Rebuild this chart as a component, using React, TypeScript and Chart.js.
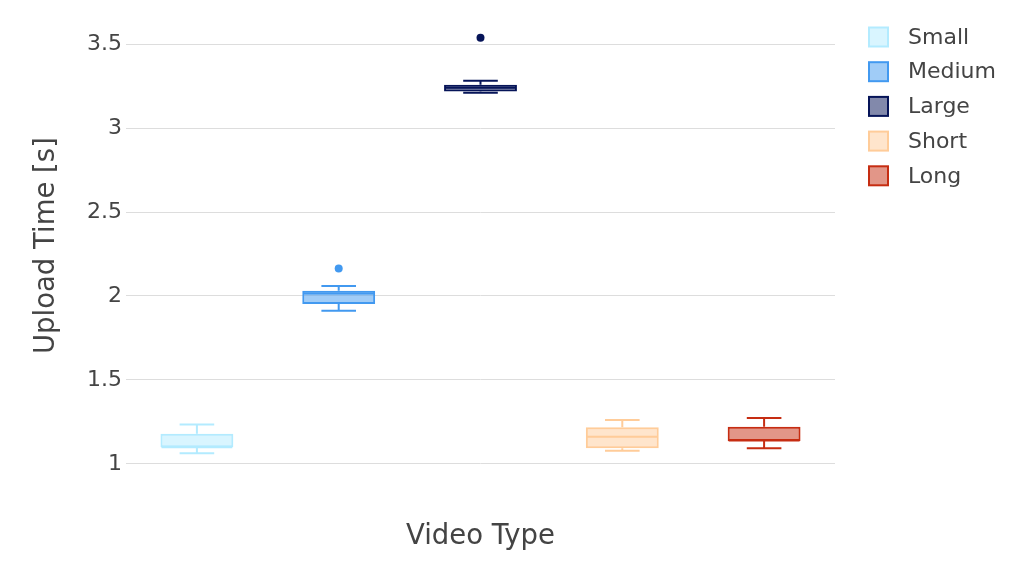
import { useEffect, useRef } from 'react';
import { Chart, registerables } from 'chart.js';

Chart.register(...registerables);

const categories = ['Small', 'Medium', 'Large', 'Short', 'Long'];
const lowerWhisker = [1.063, 1.912, 3.21, 1.079, 1.093];
const q1Values = [1.1, 1.952, 3.218, 1.093, 1.136];
const medianValues = [1.1, 2.015, 3.24, 1.162, 1.14];
const q3Values = [1.18, 2.031, 3.258, 1.219, 1.221];
const upperWhisker = [1.235, 2.06, 3.281, 1.262, 1.274];
const outlierValues: number[][] = [[], [2.163], [3.537], [], []];

const lineColors = ['rgb(179,235,255)', 'rgb(66,153,240)', 'rgb(6,20,88)', 'rgb(255,204,153)', 'rgb(198,45,18)'];
const fillColors = ['rgba(179,235,255,0.5)', 'rgba(66,153,240,0.5)', 'rgba(6,20,88,0.5)', 'rgba(255,204,153,0.5)', 'rgba(198,45,18,0.5)'];

const yTickStep = 0.5;
const yMin = 0.94;
const yMax = 3.66;

const BOX_HALF = 0.25;
const CAP_HALF = 0.122;
const TEXT = '#444';
const FONT = 'DejaVu Sans';

const legendPlugin = {
  id: 'customLegend',
  afterDraw(chart: any) {
    const ctx = chart.ctx;
    ctx.save();
    categories.forEach((name, i) => {
      const cy = 37 + i * 34.7;
      ctx.fillStyle = '#fff';
      ctx.fillRect(869, cy - 9.5, 19, 19);
      ctx.fillStyle = fillColors[i];
      ctx.fillRect(869, cy - 9.5, 19, 19);
      ctx.strokeStyle = lineColors[i];
      ctx.lineWidth = 2;
      ctx.strokeRect(869, cy - 9.5, 19, 19);
      ctx.fillStyle = TEXT;
      ctx.font = `22px "${FONT}"`;
      ctx.textBaseline = 'middle';
      ctx.textAlign = 'left';
      ctx.fillText(name, 908, cy + 1);
    });
    ctx.restore();
  },
};

export default function App() {
  const ref = useRef<HTMLCanvasElement | null>(null);

  useEffect(() => {
    if (!ref.current) return;
    Chart.defaults.font.family = FONT;

    const boxSets = categories.map((name, i) => ({
      type: 'bar' as const,
      label: name,
      data: categories.map((_, j) => (j === i ? [q1Values[i], q3Values[i]] : null)),
      backgroundColor: fillColors[i],
      borderColor: lineColors[i],
      borderWidth: 2,
      borderSkipped: false,
      grouped: false,
      categoryPercentage: 1,
      barPercentage: 0.514,
      xAxisID: 'x',
      yAxisID: 'y',
      order: 3,
    }));

    const gap = (i: number) => ({ x: i, y: null as any });
    const whiskerSets = categories.map((name, i) => ({
      type: 'line' as const,
      label: name + ' whiskers',
      data: [
        { x: i, y: q3Values[i] }, { x: i, y: upperWhisker[i] }, gap(i),
        { x: i, y: q1Values[i] }, { x: i, y: lowerWhisker[i] }, gap(i),
        { x: i - CAP_HALF, y: upperWhisker[i] }, { x: i + CAP_HALF, y: upperWhisker[i] }, gap(i),
        { x: i - CAP_HALF, y: lowerWhisker[i] }, { x: i + CAP_HALF, y: lowerWhisker[i] }, gap(i),
        { x: i - BOX_HALF, y: medianValues[i] }, { x: i + BOX_HALF, y: medianValues[i] },
      ],
      borderColor: lineColors[i],
      borderWidth: 2,
      pointRadius: 0,
      fill: false,
      tension: 0,
      spanGaps: false,
      xAxisID: 'x2',
      yAxisID: 'y',
      order: 2,
    }));

    const outlierSets = categories.map((name, i) => ({
      type: 'scatter' as const,
      label: name + ' outliers',
      data: outlierValues[i].map((v) => ({ x: i, y: v })),
      backgroundColor: lineColors[i],
      borderColor: lineColors[i],
      pointRadius: 4,
      borderWidth: 0,
      xAxisID: 'x2',
      yAxisID: 'y',
      order: 1,
    }));

    const chart = new Chart(ref.current, {
      type: 'bar',
      data: {
        labels: categories,
        datasets: [...boxSets, ...whiskerSets, ...outlierSets] as any,
      },
      plugins: [legendPlugin],
      options: {
        animation: false,
        responsive: true,
        maintainAspectRatio: false,
        layout: { padding: { top: 15, right: 183, bottom: 0, left: 0 } },
        plugins: {
          legend: { display: false },
          tooltip: { enabled: false },
        },
        scales: {
          x: {
            type: 'category',
            offset: true,
            grid: { display: false },
            border: { display: false },
            ticks: { display: false },
            title: {
              display: true,
              text: 'Video Type',
              color: TEXT,
              font: { size: 27.5, family: FONT },
              padding: { top: 0, bottom: 12.5 },
            },
            afterFit: (s: any) => { s.height = 92; },
          },
          x2: {
            type: 'linear',
            min: -0.5,
            max: 4.5,
            offset: false,
            display: false,
          },
          y: {
            type: 'linear',
            min: yMin,
            max: yMax,
            ticks: {
              stepSize: yTickStep,
              includeBounds: false,
              color: TEXT,
              font: { size: 22, family: FONT },
              padding: 4,
              callback: (v: any) => String(Number(v)),
            },
            grid: { color: '#DDDDDD', lineWidth: 1, drawTicks: false },
            border: { display: false },
            title: {
              display: true,
              text: 'Upload Time [s]',
              color: TEXT,
              font: { size: 27.5, family: FONT },
              padding: { top: 30.5, bottom: 0 },
            },
            afterFit: (s: any) => { s.width = 126; },
          },
        },
      } as any,
    });
    return () => chart.destroy();
  }, []);

  return (
    <div style={{ position: 'absolute', left: 0, top: 0, width: 1018, height: 566, background: '#fff' }}>
      <canvas ref={ref} />
    </div>
  );
}
